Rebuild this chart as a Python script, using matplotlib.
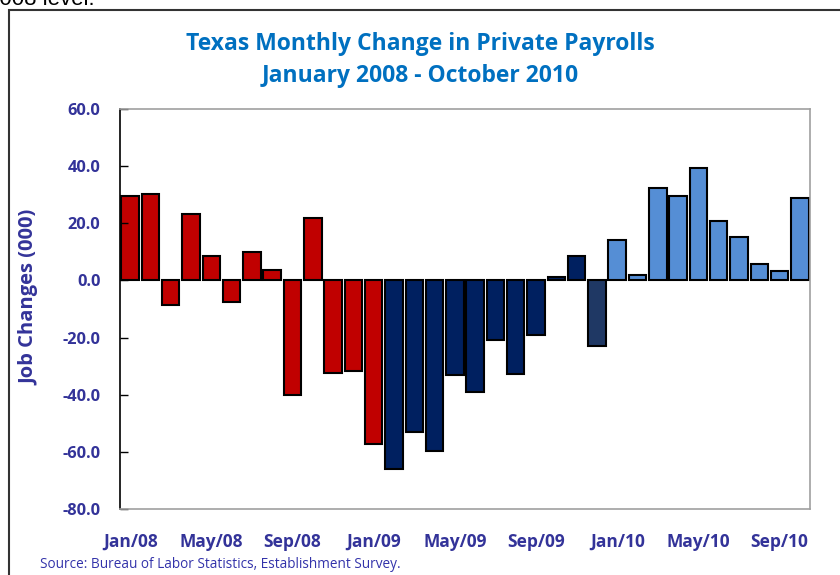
import matplotlib.pyplot as plt
from matplotlib.patches import Rectangle

plt.rcParams['font.family'] = ['Open Sans', 'DejaVu Sans']

# monthly change in private payrolls, thousands (Jan 2008 - Oct 2010)
months = ["Jan/08", "Feb/08", "Mar/08", "Apr/08", "May/08", "Jun/08", "Jul/08", "Aug/08",
          "Sep/08", "Oct/08", "Nov/08", "Dec/08",
          "Jan/09", "Feb/09", "Mar/09", "Apr/09", "May/09", "Jun/09", "Jul/09", "Aug/09",
          "Sep/09", "Oct/09", "Nov/09", "Dec/09",
          "Jan/10", "Feb/10", "Mar/10", "Apr/10", "May/10", "Jun/10", "Jul/10", "Aug/10",
          "Sep/10", "Oct/10"]
changes = [29.6, 30.2, -8.5, 23.1, 8.7, -7.7, 9.8, 3.7, -40.1, 21.8, -32.4, -31.7,
           -57.1, -66.1, -53.2, -59.7, -33.2, -39.0, -20.8, -32.6, -19.2, 1.3, 8.7, -23.0,
           14.2, 1.9, 32.5, 29.4, 39.4, 20.8, 15.1, 5.7, 3.4, 28.7]
bar_colors = (["#C00000"] * 13 + ["#002060"] * 10 + ["#1F3864"] + ["#558ED5"] * 10)

tick_months = ["Jan/08", "May/08", "Sep/08", "Jan/09", "May/09", "Sep/09",
               "Jan/10", "May/10", "Sep/10"]
yticks = [60, 40, 20, 0, -20, -40, -60, -80]

label_color = "#333399"

fig = plt.figure(figsize=(8.4, 5.75), dpi=100)
ax = fig.add_axes([120 / 840, 1 - 509 / 575, 690 / 840, 400 / 575])

x = list(range(len(changes)))
ax.bar(x, changes, width=0.86, color=bar_colors, edgecolor="black", linewidth=1.5)

ax.set_xlim(-0.5, len(changes) - 0.5)
ax.set_ylim(-80, 60)
ax.set_yticks(yticks)
ax.set_yticklabels([f"{v:.1f}" for v in yticks], fontsize=11.8, fontweight="bold",
                   color=label_color)
ax.set_xticks([months.index(m) for m in tick_months])
ax.set_xticklabels(tick_months, fontsize=12.5, fontweight="bold", color=label_color)
ax.tick_params(axis="y", direction="in", length=6, width=1, pad=14)
ax.tick_params(axis="x", length=0, pad=17)

ax.spines["left"].set_color("black")
ax.spines["left"].set_linewidth(1.2)
for s in ["top", "right", "bottom"]:
    ax.spines[s].set_color("#A0A0A0")
    ax.spines[s].set_linewidth(1.2)

ax.set_ylabel("Job Changes (000)", fontsize=14.5, fontweight="bold", color=label_color)
ax.yaxis.set_label_coords(-0.117, 0.53)

fig.text(0.5, 1 - 44 / 575, "Texas Monthly Change in Private Payrolls", ha="center",
         va="center", fontsize=16.5, fontweight="bold", color="#0070C0")
fig.text(0.5, 1 - 76 / 575, "January 2008 - October 2010", ha="center", va="center",
         fontsize=16.5, fontweight="bold", color="#0070C0")

fig.text(40 / 840, 1 - 565 / 575, "Source: Bureau of Labor Statistics, Establishment Survey.",
         ha="left", va="center", fontsize=9.8, color="#3333AA")

# outer chart frame and the cut-off document text above it
fig.add_artist(Rectangle((8.5 / 840, -0.1), 1.2, 1.1 - 9.5 / 575, transform=fig.transFigure,
                         fill=False, edgecolor="#333333", linewidth=1.5))
fig.text(-13 / 840, 1 - 5 / 575, "2008 level.", ha="left", va="baseline", fontsize=16,
         family="Liberation Sans", color="black")

fig.savefig("out.png", dpi=100)
